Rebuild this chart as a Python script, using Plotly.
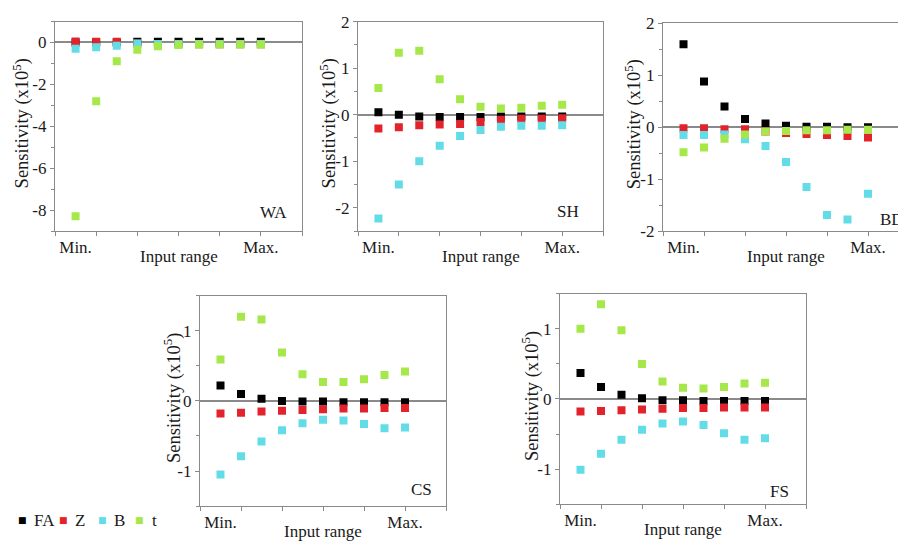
import plotly.graph_objects as go

W, H = 898, 547

# ---------------- data ----------------
x_points = list(range(1, 11))
x_tick_labels = ["Min.", "Max."]
series_names = ["FA", "Z", "B", "t"]
series_colors = ["#000000", "#e3232c", "#62dde8", "#a6e84a"]

WA_FA = [0.00, 0.00, 0.00, 0.03, 0.03, 0.03, 0.03, 0.03, 0.03, 0.03]
WA_Z = [0.05, 0.04, 0.04, -0.05, -0.08, -0.08, -0.08, -0.08, -0.08, -0.08]
WA_B = [-0.30, -0.23, -0.15, -0.05, -0.07, -0.07, -0.07, -0.07, -0.07, -0.07]
WA_t = [-8.3, -2.8, -0.89, -0.35, -0.18, -0.12, -0.10, -0.09, -0.10, -0.10]

SH_FA = [0.05, 0.00, -0.04, -0.05, -0.05, -0.05, -0.04, -0.04, -0.04, -0.04]
SH_Z = [-0.30, -0.27, -0.23, -0.21, -0.20, -0.16, -0.11, -0.09, -0.09, -0.08]
SH_B = [-2.23, -1.50, -1.00, -0.67, -0.46, -0.33, -0.26, -0.24, -0.24, -0.23]
SH_t = [0.57, 1.33, 1.37, 0.76, 0.33, 0.17, 0.13, 0.15, 0.19, 0.21]

BD_FA = [1.60, 0.88, 0.40, 0.16, 0.07, 0.03, 0.01, 0.01, 0.00, 0.00]
BD_Z = [-0.02, -0.02, -0.04, -0.04, -0.08, -0.11, -0.13, -0.15, -0.17, -0.20]
BD_B = [-0.15, -0.15, -0.14, -0.23, -0.36, -0.67, -1.15, -1.69, -1.78, -1.28]
BD_t = [-0.48, -0.39, -0.22, -0.14, -0.08, -0.07, -0.06, -0.06, -0.05, -0.05]

CS_FA = [0.22, 0.10, 0.03, 0.00, -0.01, -0.01, -0.02, -0.02, -0.02, -0.02]
CS_Z = [-0.18, -0.17, -0.15, -0.14, -0.13, -0.12, -0.11, -0.11, -0.10, -0.10]
CS_B = [-1.05, -0.79, -0.58, -0.42, -0.32, -0.27, -0.28, -0.33, -0.39, -0.38]
CS_t = [0.59, 1.20, 1.16, 0.69, 0.38, 0.27, 0.27, 0.31, 0.37, 0.42]

FS_FA = [0.37, 0.17, 0.06, 0.01, -0.02, -0.02, -0.03, -0.03, -0.03, -0.03]
FS_Z = [-0.18, -0.17, -0.16, -0.15, -0.14, -0.13, -0.13, -0.12, -0.12, -0.12]
FS_B = [-1.01, -0.78, -0.58, -0.44, -0.35, -0.32, -0.37, -0.49, -0.58, -0.56]
FS_t = [1.00, 1.35, 0.98, 0.50, 0.25, 0.16, 0.15, 0.17, 0.22, 0.23]

# y tick values (labels use a hyphen minus as in the original)
WA_yticks = [-8, -6, -4, -2, 0]
SH_yticks = [-2, -1, 0, 1, 2]
BD_yticks = [-2, -1, 0, 1, 2]
CS_yticks = [-1, 0, 1]
FS_yticks = [-1, 0, 1]

panel_names = ["WA", "SH", "BD", "CS", "FS"]
panel_data = {
    "WA": [WA_FA, WA_Z, WA_B, WA_t],
    "SH": [SH_FA, SH_Z, SH_B, SH_t],
    "BD": [BD_FA, BD_Z, BD_B, BD_t],
    "CS": [CS_FA, CS_Z, CS_B, CS_t],
    "FS": [FS_FA, FS_Z, FS_B, FS_t],
}
panel_yticks = {"WA": WA_yticks, "SH": SH_yticks, "BD": BD_yticks, "CS": CS_yticks, "FS": FS_yticks}

# ---------------- layout geometry (pixels) ----------------
# name: (left, right, top, bottom, xmax, yrange, minor dtick, mirror_right)
geom = {
    "WA": (55, 302, 13, 230, 12, [-9, 1], 1, True),
    "SH": (358, 603, 13, 230, 12, [-2.5, 2], 0.5, True),
    "BD": (663, 898, 15, 230, (898 - 663) / 20.5, [-2, 2], 0.5, False),
    "CS": (200, 446, 297, 515, 12, [-1.5, 1.5], 0.5, True),
    "FS": (560, 806, 295, 513, 12, [-1.5, 1.5], 0.5, True),
}
label_pos = {"WA": (273, 211), "SH": (568, 210), "BD": (878, 218), "CS": (421, 498), "FS": (779, 500)}
ytitle_x = {"WA": 21, "SH": 328, "BD": 633, "CS": 172, "FS": 530}

FONT = "Liberation Serif"
TXT = "#1a1a1a"
AX = "#8a8a8a"

fig = go.Figure()
layout = dict(
    width=W, height=H,
    margin=dict(l=0, r=0, t=0, b=0),
    paper_bgcolor="white", plot_bgcolor="white",
    font=dict(family=FONT, size=16, color=TXT),
    showlegend=False,
)
annotations = []


def px(xp):
    return xp / W


def py(yp):
    return 1 - yp / H


for i, name in enumerate(panel_names):
    left, right, top, bottom, xmax, yr, mdt, mir = geom[name]
    k = "" if i == 0 else str(i + 1)
    xa, ya = "xaxis" + k, "yaxis" + k
    for j, s in enumerate(series_names):
        fig.add_trace(go.Scatter(
            x=x_points, y=panel_data[name][j], mode="markers", name=s,
            marker=dict(symbol="square", size=8, color=series_colors[j], line=dict(width=0)),
            xaxis="x" + k, yaxis="y" + k, showlegend=False,
        ))
    yt = panel_yticks[name]
    layout[xa] = dict(
        domain=[px(left), px(right)], range=[0, xmax], anchor="y" + k,
        tickmode="array", tickvals=[x_points[0], x_points[-1]], ticktext=x_tick_labels,
        ticks="", showgrid=False, zeroline=False,
        showline=True, linecolor=AX, linewidth=1.2, mirror=True,
        tickfont=dict(family=FONT, size=17, color=TXT),
        minor=dict(tickmode="array", tickvals=[0, 2, 4, 6, 8, 10, 12], ticks="outside",
                   ticklen=4, tickcolor=AX, tickwidth=1.2, showgrid=False),
        fixedrange=True,
    )
    layout[ya] = dict(
        domain=[py(bottom), py(top)], range=yr, anchor="x" + k,
        tickmode="array", tickvals=yt, ticktext=[str(v) for v in yt],
        ticks="outside", ticklen=4, tickcolor=AX, tickwidth=1.2,
        showgrid=False, zeroline=True, zerolinecolor=AX, zerolinewidth=1.5,
        showline=True, linecolor=AX, linewidth=1.2, mirror=mir,
        tickfont=dict(family=FONT, size=17, color=TXT),
        minor=dict(tickmode="linear", tick0=0, dtick=mdt, ticks="outside", ticklen=3,
                   tickcolor=AX, tickwidth=1.2, showgrid=False),
        fixedrange=True,
    )
    # panel label
    lx, ly = label_pos[name]
    annotations.append(dict(text=name, x=px(lx), y=py(ly), xref="paper", yref="paper",
                            showarrow=False, xanchor="center" if name != "BD" else "left",
                            yanchor="middle",
                            font=dict(family=FONT, size=17, color=TXT)))
    # y title
    annotations.append(dict(text="Sensitivity (x10<sup>5</sup>)", x=px(ytitle_x[name]),
                            y=py((top + bottom) / 2 - 3), xref="paper", yref="paper",
                            showarrow=False, textangle=-90, xanchor="center", yanchor="middle",
                            font=dict(family=FONT, size=18.5, color=TXT)))
    # x title
    full_right = left + 12 * (right - left) / xmax
    annotations.append(dict(text="Input range", x=px((left + full_right) / 2), y=py(bottom + 26),
                            xref="paper", yref="paper", showarrow=False,
                            xanchor="center", yanchor="middle",
                            font=dict(family=FONT, size=17, color=TXT)))

# legend (bottom-left), drawn as text
legend_sq_x = [22, 63, 102, 139]
legend_txt_x = [32, 73, 112, 150]
for j, s in enumerate(series_names):
    annotations.append(dict(text="\u25a0", x=px(legend_sq_x[j]), y=py(529), xref="paper", yref="paper",
                            showarrow=False, xanchor="center", yanchor="middle",
                            font=dict(family="DejaVu Sans", size=9, color=series_colors[j])))
    annotations.append(dict(text=s, x=px(legend_txt_x[j]), y=py(530), xref="paper", yref="paper",
                            showarrow=False, xanchor="left", yanchor="middle",
                            font=dict(family=FONT, size=17, color=TXT)))

layout["annotations"] = annotations
fig.update_layout(**layout)
fig.write_html("out.html", config={"displayModeBar": False},
               post_script="document.body.style.margin='0';document.body.style.overflow='hidden';")
